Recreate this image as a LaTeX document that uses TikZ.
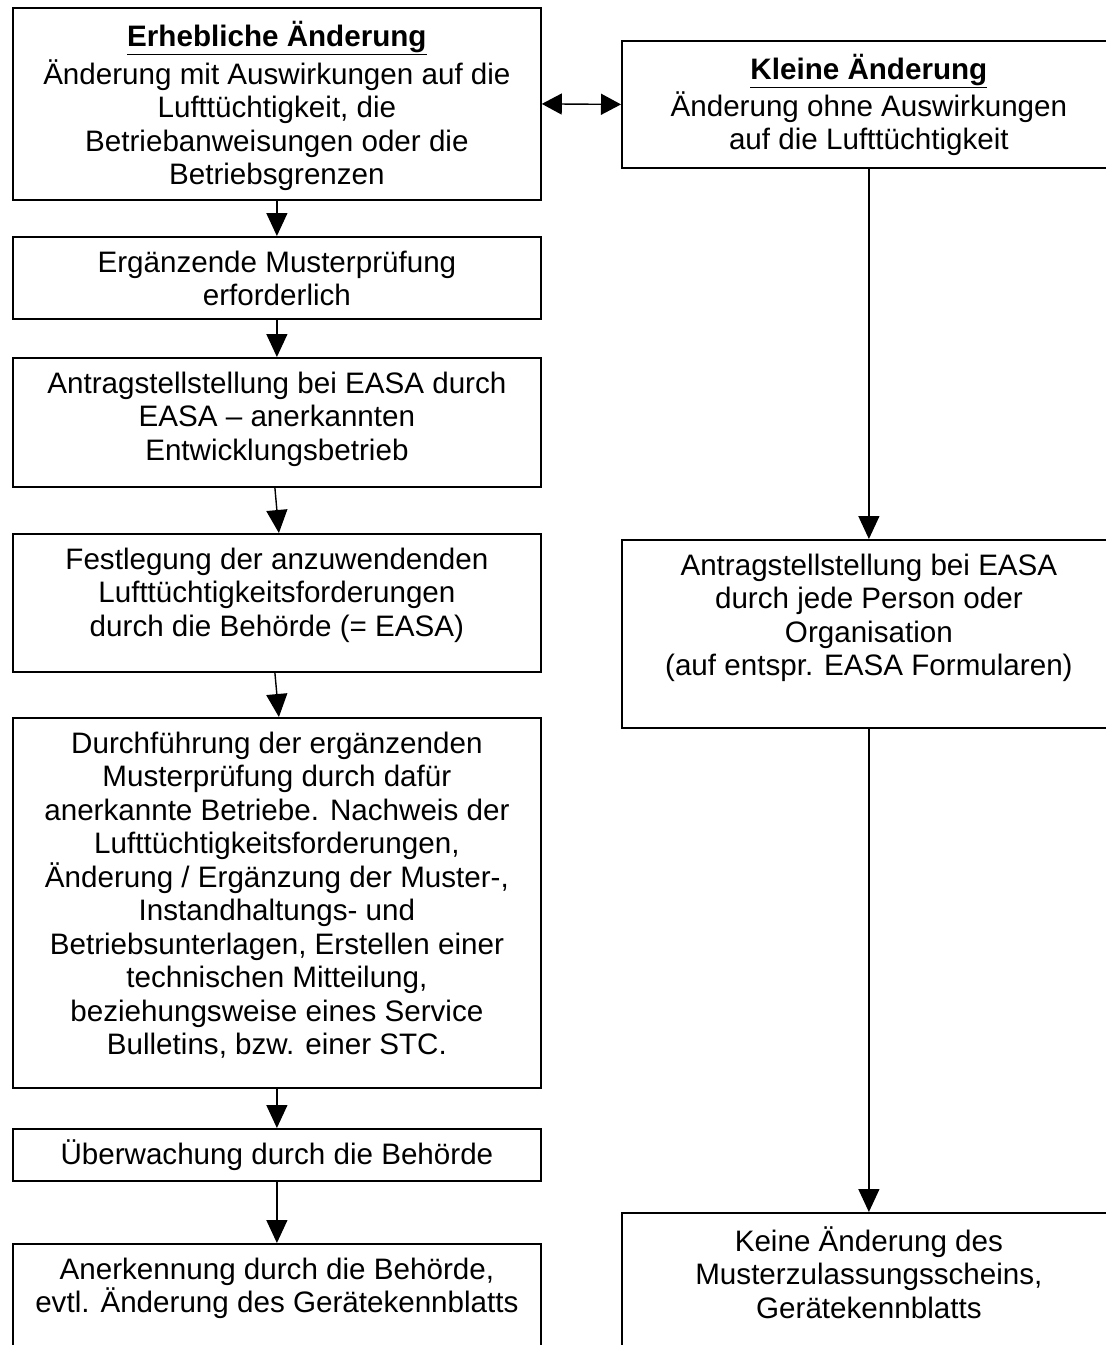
\documentclass[tikz,border=0pt]{standalone}
\usepackage{fontspec}
\setmainfont{Liberation Sans}
\usetikzlibrary{arrows.meta}
\tikzset{
  box/.style={draw, line width=1.8pt, rectangle, anchor=north west, inner sep=0pt},
  txt/.style={font=\fontsize{29.6}{33.5}\selectfont, align=center, inner sep=0pt, anchor=north, execute at begin node=\strut},
  arr/.style={line width=1.4pt, -{Triangle[length=23pt,width=21pt]}},
  darr/.style={line width=1.4pt, {Triangle[length=20pt,width=21pt]}-{Triangle[length=20pt,width=21pt]}},
}
\begin{document}
\begin{tikzpicture}[x=1pt,y=-1pt]
\fill[white] (0,0) rectangle (1106,1345);
\useasboundingbox (0,0) rectangle (1106,1345);
\clip (0,0) rectangle (1106,1345);

% left column boxes
\node[box, minimum width=528pt, minimum height=192pt] (l1) at (12,7) {};
\node[box, minimum width=528pt, minimum height=82pt]  (l2) at (12,236) {};
\node[box, minimum width=528pt, minimum height=129pt] (l3) at (12,357) {};
\node[box, minimum width=528pt, minimum height=138pt] (l4) at (12,533) {};
\node[box, minimum width=528pt, minimum height=370pt] (l5) at (12,717) {};
\node[box, minimum width=528pt, minimum height=52pt]  (l6) at (12,1128) {};
\node[box, minimum width=528pt, minimum height=200pt] (l7) at (12,1243) {};

% right column boxes
\node[box, minimum width=494pt, minimum height=127pt] (r1) at (621,40) {};
\node[box, minimum width=494pt, minimum height=188pt] (r2) at (621,539) {};
\node[box, minimum width=494pt, minimum height=200pt] (r3) at (621,1212) {};

% texts
\node[txt] (t1) at ([yshift=-14.5pt]l1.north) {\textbf{\underline{Erhebliche Änderung}}\\[4pt]Änderung mit Auswirkungen auf die\\Lufttüchtigkeit, die\\Betriebanweisungen oder die\\Betriebsgrenzen};
\node[txt] (t2) at ([yshift=-14.5pt]l2.north) {Ergänzende Musterprüfung\\erforderlich};
\node[txt] (t3) at ([yshift=-14.5pt]l3.north) {Antragstellstellung bei EASA durch\\EASA – anerkannten\\Entwicklungsbetrieb};
\node[txt] (t4) at ([yshift=-14.5pt]l4.north) {Festlegung der anzuwendenden\\Lufttüchtigkeitsforderungen\\durch die Behörde (= EASA)};
\node[txt] (t5) at ([yshift=-14.5pt]l5.north) {Durchführung der ergänzenden\\Musterprüfung durch dafür\\anerkannte Betriebe. Nachweis der\\Lufttüchtigkeitsforderungen,\\Änderung / Ergänzung der Muster-,\\Instandhaltungs- und\\Betriebsunterlagen, Erstellen einer\\technischen Mitteilung,\\beziehungsweise eines Service\\Bulletins, bzw. einer STC.};
\node[txt] (t6) at ([yshift=-12pt]l6.north) {Überwachung durch die Behörde};
\node[txt] (t7) at ([yshift=-14.5pt]l7.north) {Anerkennung durch die Behörde,\\evtl. Änderung des Gerätekennblatts};
\node[txt] (u1) at ([yshift=-14.5pt]r1.north) {\textbf{\underline{Kleine Änderung}}\\[3pt]Änderung ohne Auswirkungen\\auf die Lufttüchtigkeit};
\node[txt] (u2) at ([yshift=-14.5pt]r2.north) {Antragstellstellung bei EASA\\durch jede Person oder\\Organisation\\(auf entspr. EASA Formularen)};
\node[txt] (u3) at ([yshift=-14.5pt]r3.north) {Keine Änderung des\\Musterzulassungsscheins,\\Gerätekennblatts};

% connectors
\draw[darr] (l1.east) -- (r1.west);
\draw[arr] (l1.south) -- (l2.north);
\draw[arr] (l2.south) -- (l3.north);
\draw[arr] ([xshift=-2pt]l3.south) -- ([xshift=2pt]l4.north);
\draw[arr] ([xshift=-2pt]l4.south) -- ([xshift=2pt]l5.north);
\draw[arr] (l5.south) -- (l6.north);
\draw[arr] (l6.south) -- (l7.north);
\draw[arr] (r1.south) -- (r2.north);
\draw[arr] (r2.south) -- (r3.north);
\end{tikzpicture}
\end{document}
